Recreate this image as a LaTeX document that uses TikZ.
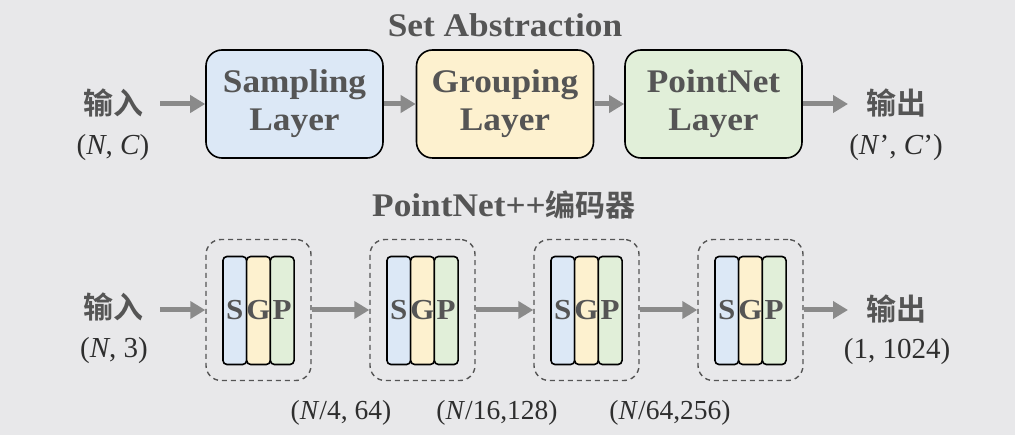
\documentclass[tikz,border=0pt]{standalone}
\usepackage{fontspec}
\setmainfont{Liberation Serif}
\newfontfamily\wb{Liberation Serif}[FakeStretch=1.07]
\newfontfamily\cjk{Noto Sans CJK SC}[UprightFont=* Bold]
\usetikzlibrary{arrows.meta}
\definecolor{bgc}{HTML}{E8E8EA}
\definecolor{txt}{HTML}{555555}
\definecolor{arrc}{HTML}{8A8A8A}
\definecolor{dk}{HTML}{2E2E2E}
\definecolor{blf}{HTML}{DCE8F6}
\definecolor{yef}{HTML}{FDF1CF}
\definecolor{grf}{HTML}{E1EFD9}
\newcommand\bigfnt{\wb\bfseries\fontsize{33}{38}\selectfont}
\newcommand\sgpfnt{\wb\bfseries\fontsize{29}{32}\selectfont}
\newcommand\cjkfnt{\cjk\fontsize{30}{34}\selectfont}
\newcommand\lblfnt{\fontsize{29}{32}\selectfont}
\newcommand\dimfnt{\fontsize{27.5}{30}\selectfont}
\tikzset{
  bigbox/.style={draw=black, line width=1.6pt, rounded corners=16pt,
    minimum width=177pt, minimum height=108pt, align=center, text=txt,
    font=\bigfnt, inner sep=0pt},
  strip/.style={draw=black, line width=1.6pt, rounded corners=4pt,
    minimum width=23.7pt, minimum height=108pt, inner sep=0pt},
  letter/.style={text=txt, font=\sgpfnt, inner sep=0pt},
  dbox/.style={draw=txt, dash pattern=on 5pt off 4pt, line width=1.4pt,
    rounded corners=15pt, minimum width=105pt, minimum height=141pt, inner sep=0pt},
  conn/.style={draw=arrc, line width=5pt, -{Triangle[length=15pt,width=17pt]}},
  ttl/.style={text=txt, inner sep=0pt},
  cjklbl/.style={text=txt, font=\cjkfnt, inner sep=0pt},
  sizelbl/.style={text=dk, font=\lblfnt, inner sep=0pt},
  dimlbl/.style={text=dk, font=\dimfnt, inner sep=0pt, anchor=base},
}
\begin{document}
\begin{tikzpicture}[x=1pt,y=-1pt]
\fill[bgc] (0,0) rectangle (1015,435);
\useasboundingbox (0,0) rectangle (1015,435);

% ---------- top: Set Abstraction ----------
\node[ttl, font=\bigfnt] (t1) at (505,25) {Set Abstraction};
\node[bigbox, fill=blf] (samp) at (294.5,104) {Sampling\\Layer};
\node[bigbox, fill=yef] (grp) at (505,104) {Grouping\\Layer};
\node[bigbox, fill=grf] (pn) at (713.5,104) {PointNet\\Layer};

\node[cjklbl] (in1) at (113,103) {输入};
\node[sizelbl] (in1s) at (113,148) {(\textit{N}, \textit{C})};
\node[cjklbl] (out1) at (896,103) {输出};
\node[sizelbl] (out1s) at (896,148) {(\textit{N}’, \textit{C}’)};

\coordinate (a0) at (160,104);
\coordinate (a9) at (848,104);
\draw[conn] (a0) -- (samp.west);
\draw[conn] (samp.east) -- (grp.west);
\draw[conn] (grp.east) -- (pn.west);
\draw[conn] (pn.east) -- (a9);

% ---------- bottom: PointNet++ encoder ----------
\node[ttl] (t2) at (504,205) {{\bigfnt PointNet++}{\cjkfnt 编码器}};

\foreach \i/\cx in {1/258.5,2/422.5,3/586.5,4/750.5}{
  \node[dbox] (d\i) at (\cx,310) {};
  \node[strip, fill=blf] (s\i) at (\cx-23.7,310.5) {};
  \node[strip, fill=yef] (g\i) at (\cx,310.5) {};
  \node[strip, fill=grf] (p\i) at (\cx+23.7,310.5) {};
  \node[letter] (ls\i) at (s\i) {S};
  \node[letter] (lg\i) at (g\i) {G};
  \node[letter] (lp\i) at (p\i) {P};
}

\node[cjklbl] (in2) at (113,307) {输入};
\node[sizelbl] (in2s) at (114,351) {(\textit{N}, 3)};
\node[cjklbl] (out2) at (896,309) {输出};
\node[sizelbl] (out2s) at (897,352) {(1, 1024)};

\coordinate (b0) at (160,310);
\coordinate (b9) at (848,310);
\draw[conn] (b0) -- (d1.west);
\draw[conn] (d1.east) -- (d2.west);
\draw[conn] (d2.east) -- (d3.west);
\draw[conn] (d3.east) -- (d4.west);
\draw[conn] (d4.east) -- (b9);

\node[dimlbl] (l1) at (341,420) {(\textit{N}/4, 64)};
\node[dimlbl] (l2) at (497,420) {(\textit{N}/16,128)};
\node[dimlbl] (l3) at (670,420) {(\textit{N}/64,256)};
\end{tikzpicture}
\end{document}
